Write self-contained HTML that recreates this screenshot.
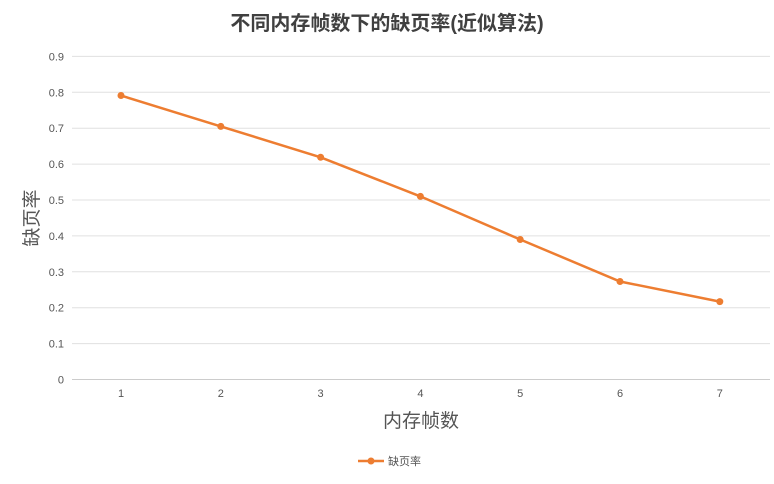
<!DOCTYPE html>
<html><head><meta charset="utf-8"><style>
body{margin:0;background:#fff;}
svg text{font-family:"Liberation Sans","Noto Sans CJK SC",sans-serif;}
</style></head><body>
<svg id="c" width="774" height="479">
<text x="387" y="30" text-anchor="middle" font-size="20" font-weight="bold" fill="#404040">不同内存帧数下的缺页率(近似算法)</text>
<g id="grid"></g><g id="plot"></g>
<text transform="translate(38,218) rotate(-90)" text-anchor="middle" font-size="19" fill="#555">缺页率</text>
<text x="421" y="427" text-anchor="middle" font-size="19" fill="#555">内存帧数</text>
<g>
<line x1="358" y1="461" x2="384" y2="461" stroke="#ED7D31" stroke-width="2.5"/>
<circle cx="371" cy="461" r="3.5" fill="#ED7D31"/>
<text x="388" y="465" font-size="11" fill="#555">缺页率</text>
</g>
</svg>
<script>
const categories=[1,2,3,4,5,6,7];
const values=[0.791,0.705,0.619,0.510,0.390,0.273,0.217];
const yTicks=[0,0.1,0.2,0.3,0.4,0.5,0.6,0.7,0.8,0.9];
const NS="http://www.w3.org/2000/svg";
const X0=72,X1=770,Y0=379.5,YS=359;
const xs=i=>121+i*99.8;
const ys=v=>Y0-v*YS;
const grid=document.getElementById('grid'),plot=document.getElementById('plot');
function mk(t,a,p){const e=document.createElementNS(NS,t);for(const k in a)e.setAttribute(k,a[k]);p.appendChild(e);return e;}
yTicks.forEach(v=>{
 const l=mk('line',{x1:X0,x2:X1,y1:ys(v),y2:ys(v),stroke:v===0?'#ccc':'#e0e0e0','stroke-width':1},grid);
 
 
 const t=mk('text',{x:64,y:ys(v)+4,'text-anchor':'end','font-size':11,fill:'#555'},grid);
 t.textContent=String(v);
 
 
});
categories.forEach((c,i)=>{
 const t=mk('text',{x:xs(i),y:397,'text-anchor':'middle','font-size':11,fill:'#555'},grid);
 t.textContent=c;
 
 
});
const pl=mk('polyline',{points:values.map((v,i)=>xs(i)+','+ys(v)).join(' '),fill:'none',stroke:'#ED7D31','stroke-width':2.5},plot);


values.forEach((v,i)=>{
 const c=mk('circle',{cx:xs(i),cy:ys(v),r:3.5,fill:'#ED7D31'},plot);
 
 
});
</script>
</body></html>
